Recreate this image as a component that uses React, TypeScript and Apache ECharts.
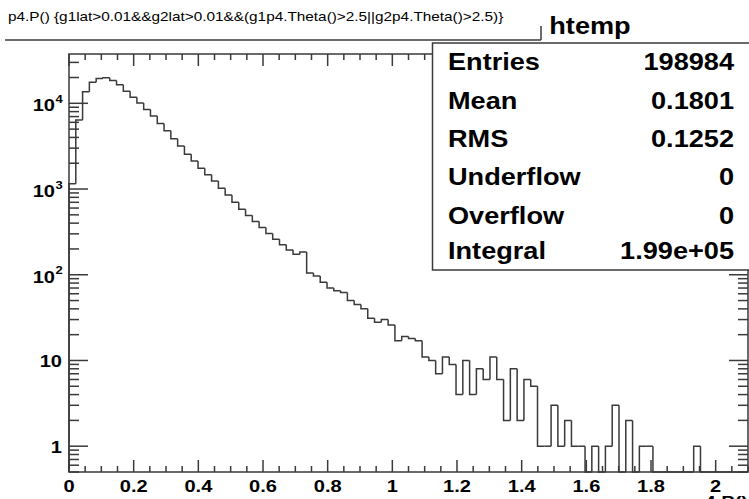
import React, { useEffect, useRef } from "react";
import * as echarts from "echarts";

// ---- histogram content -------------------------------------------------
const histTitle =
  "p4.P() {g1lat>0.01&&g2lat>0.01&&(g1p4.Theta()>2.5||g2p4.Theta()>2.5)}";
const histName = "htemp";
const xAxisTitle = "p4.P()";

const xLow = 0;
const xHigh = 2.1;

// 100 bins of width 0.021 between xLow and xHigh
const binCounts = [
  1150, 6400, 13600, 17600, 19500, 19900, 18400, 16500, 13870, 11800,
  10050, 8440, 7090, 5800, 4800, 3870, 3170, 2550, 2120, 1750,
  1470, 1240, 1020, 849, 703, 582, 490, 417, 355, 302,
  260, 224, 194, 174, 184, 105, 97, 82, 70, 65,
  62, 50, 45, 40, 31, 28, 30, 26, 17, 19,
  18, 17, 11, 10, 7, 11, 9, 4, 10, 4,
  8, 6, 11, 6, 2, 8, 2, 6, 5, 1,
  1, 3, 1, 2, 1, 1, 0, 1, 0, 1,
  3, 0, 2, 0, 1, 1, 0, 0, 0, 0,
  0, 0, 1, 0, 0, 0, 0, 0, 0, 0,
];

// vertical (log) range of the frame
const yMin = 0.5;
const yMax = 37600;

// axis labelling
const xMajorTicks = [0, 0.2, 0.4, 0.6, 0.8, 1.0, 1.2, 1.4, 1.6, 1.8, 2.0];
const xTickLabels = ["0", "0.2", "0.4", "0.6", "0.8", "1", "1.2", "1.4", "1.6", "1.8", "2"];
const xMinorStep = 0.05;

const yDecades = [1, 10, 100, 1000, 10000];
const yLabelBase = ["1", "10", "10", "10", "10"];
const yLabelExp = ["", "", "2", "3", "4"];

// statistics box
const statsNames = ["Entries", "Mean", "RMS", "Underflow", "Overflow", "Integral"];
const statsValues = ["198984", "0.1801", "0.1252", "0", "0", "1.99e+05"];

// ---- styling -----------------------------------------------------------
const FONT = '"Liberation Sans", Arial, Helvetica, sans-serif';
const LINE = "#3a3a3a";
const TEXT_SX = 1.18;

export default function App() {
  const ref = useRef<HTMLDivElement | null>(null);

  useEffect(() => {
    if (!ref.current) return;
    const chart = echarts.init(ref.current, undefined, { renderer: "svg" });

    const binWidth = (xHigh - xLow) / binCounts.length;

    const histData = binCounts.map((c, i) => [xLow + (i + 0.5) * binWidth, c]);

    // x ticks: [value, yMin, labelIndex or -1]
    const xTickData: number[][] = [];
    const nMinor = Math.round((xHigh - xLow) / xMinorStep);
    for (let k = 0; k <= nMinor; k++) {
      const v = xLow + k * xMinorStep;
      if (v > xHigh + 1e-9) break;
      const idx = xMajorTicks.findIndex((m) => Math.abs(m - v) < 1e-6);
      xTickData.push([v, yMin, idx]);
    }

    // y ticks: [xLow, value, decadeIndex or -1]
    const yTickData: number[][] = [];
    for (let e = -1; e <= 5; e++) {
      for (let m = 1; m <= 9; m++) {
        const v = m * Math.pow(10, e);
        if (v < yMin * 0.999 || v > yMax) continue;
        const idx = yDecades.findIndex((d) => Math.abs(d - v) / d < 1e-9);
        yTickData.push([xLow, v, idx]);
      }
    }

    const rowY = [62, 100.3, 138.7, 177, 215.3, 251];
    const boxTop = 43;
    const boxLeft = 432.5;
    const boxBottom = 270;

    const graphic: any[] = [
      // title pave (shadow edges)
      { type: "line", z: 100, shape: { x1: 5, y1: 40, x2: 541, y2: 40 }, style: { stroke: LINE, lineWidth: 1.5 } },
      { type: "line", z: 100, shape: { x1: 541, y1: 26, x2: 541, y2: 40 }, style: { stroke: LINE, lineWidth: 1.5 } },
      {
        type: "text",
        z: 100,
        x: 8,
        y: 16,
        scaleX: TEXT_SX,
        style: { text: histTitle, font: `13px ${FONT}`, fill: "#000", align: "left", verticalAlign: "middle" },
      },
      // stats box, opaque over the frame
      {
        type: "rect",
        z: 100,
        shape: { x: boxLeft, y: boxTop, width: 760 - boxLeft, height: boxBottom - boxTop },
        style: { fill: "#ffffff", stroke: LINE, lineWidth: 1.5 },
      },
      {
        type: "text",
        z: 101,
        x: 590,
        y: 26,
        scaleX: TEXT_SX,
        style: { text: histName, font: `bold 23px ${FONT}`, fill: "#000", align: "center", verticalAlign: "middle" },
      },
      ...statsNames.map((n, i) => ({
        type: "text",
        z: 101,
        x: 448,
        y: rowY[i],
        scaleX: TEXT_SX,
        style: { text: n, font: `bold 23px ${FONT}`, fill: "#000", align: "left", verticalAlign: "middle" },
      })),
      ...statsValues.map((v, i) => ({
        type: "text",
        z: 101,
        x: 734,
        y: rowY[i],
        scaleX: TEXT_SX,
        style: { text: v, font: `bold 23px ${FONT}`, fill: "#000", align: "right", verticalAlign: "middle" },
      })),
      // x-axis title, partly below the page edge
      {
        type: "text",
        z: 101,
        x: 748,
        y: 494,
        scaleX: TEXT_SX,
        style: { text: xAxisTitle, font: `bold 17px ${FONT}`, fill: "#000", align: "right", verticalAlign: "top" },
      },
    ];

    const option: any = {
      animation: false,
      backgroundColor: "#ffffff",
      grid: {
        left: 69,
        right: 1,
        top: 54,
        bottom: 27,
        show: true,
        borderColor: LINE,
        borderWidth: 1.5,
        backgroundColor: "transparent",
      },
      xAxis: {
        type: "value",
        min: xLow,
        max: xHigh,
        show: false,
      },
      yAxis: {
        type: "log",
        logBase: 10,
        min: yMin,
        max: yMax,
        show: false,
      },
      graphic,
      series: [
        {
          name: histName,
          type: "custom",
          silent: true,
          clip: false,
          encode: { x: 0, y: 1 },
          data: histData,
          renderItem: (params: any, api: any) => {
            const i = params.dataIndex;
            const cs = params.coordSys;
            const bottom = cs.y + cs.height;
            const top = cs.y;
            const yOf = (v: number) => {
              if (!(v > 0)) return bottom;
              const p = api.coord([xLow, v])[1];
              return Math.max(top, Math.min(bottom, p));
            };
            const x0 = api.coord([xLow + i * binWidth, yMin])[0];
            const x1 = api.coord([xLow + (i + 1) * binWidth, yMin])[0];
            const yPrev = i === 0 ? bottom : yOf(binCounts[i - 1]);
            const y = yOf(api.value(1));
            const pts: number[][] = [
              [x0, yPrev],
              [x0, y],
              [x1, y],
            ];
            if (i === binCounts.length - 1) pts.push([x1, bottom]);
            return {
              type: "polyline",
              shape: { points: pts },
              style: { stroke: LINE, lineWidth: 1.5, fill: "none" },
            };
          },
        },
        {
          name: "xticks",
          type: "custom",
          silent: true,
          clip: false,
          encode: { x: 0, y: 1 },
          data: xTickData,
          renderItem: (params: any, api: any) => {
            const cs = params.coordSys;
            const v = api.value(0);
            const idx = api.value(2);
            const major = idx >= 0;
            const x = api.coord([v, yMin])[0];
            const len = major ? 12 : 6;
            const bottom = cs.y + cs.height;
            const top = cs.y;
            const st = { stroke: LINE, lineWidth: 1.5 };
            const children: any[] = [
              { type: "line", shape: { x1: x, y1: bottom, x2: x, y2: bottom - len }, style: st },
              { type: "line", shape: { x1: x, y1: top, x2: x, y2: top + len }, style: st },
            ];
            if (major) {
              children.push({
                type: "text",
                x,
                y: bottom + 6,
                scaleX: TEXT_SX,
                style: {
                  text: xTickLabels[idx],
                  font: `bold 17px ${FONT}`,
                  fill: "#000",
                  align: "center",
                  verticalAlign: "top",
                },
              });
            }
            return { type: "group", children };
          },
        },
        {
          name: "yticks",
          type: "custom",
          silent: true,
          clip: false,
          encode: { x: 0, y: 1 },
          data: yTickData,
          renderItem: (params: any, api: any) => {
            const cs = params.coordSys;
            const v = api.value(1);
            const idx = api.value(2);
            const major = idx >= 0;
            const y = api.coord([xLow, v])[1];
            const len = major ? 19 : 10;
            const left = cs.x;
            const right = cs.x + cs.width;
            const st = { stroke: LINE, lineWidth: 1.5 };
            const children: any[] = [
              { type: "line", shape: { x1: left, y1: y, x2: left + len, y2: y }, style: st },
              { type: "line", shape: { x1: right, y1: y, x2: right - len, y2: y }, style: st },
            ];
            if (major) {
              const exp = yLabelExp[idx];
              const xr = left - 7;
              if (exp) {
                children.push({
                  type: "text",
                  x: xr - 7,
                  y: y + 2,
                  scaleX: TEXT_SX,
                  style: { text: yLabelBase[idx], font: `bold 17px ${FONT}`, fill: "#000", align: "right", verticalAlign: "middle" },
                });
                children.push({
                  type: "text",
                  x: xr - 6.5,
                  y: y - 4,
                  scaleX: TEXT_SX,
                  style: { text: exp, font: `bold 11px ${FONT}`, fill: "#000", align: "left", verticalAlign: "middle" },
                });
              } else {
                children.push({
                  type: "text",
                  x: xr,
                  y: y + 0.5,
                  scaleX: TEXT_SX,
                  style: { text: yLabelBase[idx], font: `bold 17px ${FONT}`, fill: "#000", align: "right", verticalAlign: "middle" },
                });
              }
            }
            return { type: "group", children };
          },
        },
      ],
    };

    chart.setOption(option);
    return () => {
      chart.dispose();
    };
  }, []);

  return (
    <div
      ref={ref}
      style={{ position: "fixed", left: 0, top: 0, width: 749, height: 499, background: "#fff" }}
    />
  );
}
